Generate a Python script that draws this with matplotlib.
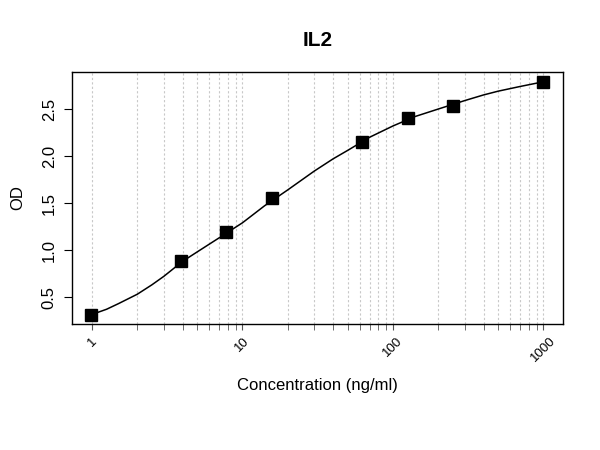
import numpy as np
import matplotlib.pyplot as plt
from matplotlib.ticker import FixedLocator, NullFormatter

plt.rcParams['font.family'] = ['Liberation Sans', 'DejaVu Sans']

# standard points
conc = [0.98, 3.9, 7.8, 15.6, 62.5, 125, 250, 1000]
od = [0.31, 0.88, 1.19, 1.55, 2.15, 2.40, 2.53, 2.79]

# fitted curve
curve_x = [0.98, 1.25, 1.5, 2, 2.5, 3, 4, 5, 7, 10, 14, 20, 30, 40, 50, 70,
           100, 140, 200, 300, 400, 500, 700, 1000]
curve_y = [0.31, 0.37, 0.43, 0.53, 0.63, 0.72, 0.88, 0.98, 1.13, 1.29, 1.47, 1.64,
           1.84, 1.97, 2.06, 2.20, 2.32, 2.42, 2.50, 2.59, 2.65, 2.69, 2.74, 2.79]

major_ticks = [1, 10, 100, 1000]
minor_ticks = [2, 3, 4, 5, 6, 7, 8, 9, 20, 30, 40, 50, 60, 70, 80, 90,
               200, 300, 400, 500, 600, 700, 800, 900]

fig = plt.figure(figsize=(6, 4.5), dpi=100)
ax = fig.add_axes([72/600, 1-324/450, (563-72)/600, (324-72)/450])

for v in major_ticks + minor_ticks:
    ax.axvline(v, color='#c8c8c8', lw=0.8, ls=(0, (2, 2)), zorder=0)

ax.plot(curve_x, curve_y, color='black', lw=1.1, zorder=2)
ax.plot(conc, od, 's', color='black', ms=8, zorder=3)

ax.set_xscale('log')
ax.set_xlim(0.736, 1349)
ax.set_ylim(0.213, 2.894)

ax.xaxis.set_major_locator(FixedLocator(major_ticks))
ax.xaxis.set_minor_locator(FixedLocator(minor_ticks))
ax.xaxis.set_minor_formatter(NullFormatter())
ax.set_xticklabels([str(t) for t in major_ticks], rotation=45, fontsize=9.5)
ax.tick_params(axis='x', which='both', length=4, color='#555555', pad=4)

ax.set_yticks([0.5, 1.0, 1.5, 2.0, 2.5])
ax.set_yticklabels(['0.5', '1.0', '1.5', '2.0', '2.5'], rotation=90, va='center', fontsize=12)
ax.tick_params(axis='y', length=6, pad=5)

for s in ax.spines.values():
    s.set_linewidth(1.0)

ax.set_xlabel('Concentration (ng/ml)', fontsize=12, labelpad=10)
ax.set_ylabel('OD', fontsize=12, labelpad=12)
ax.set_title('IL2', fontsize=15, fontweight='bold', pad=19)

fig.savefig('out.png', dpi=100)
